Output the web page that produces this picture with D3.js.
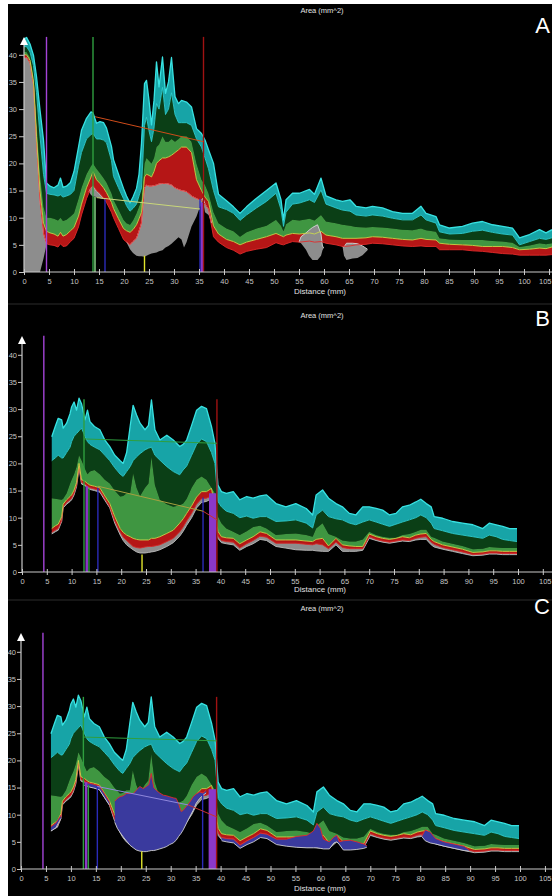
<!DOCTYPE html>
<html><head><meta charset="utf-8">
<script src="https://cdn.jsdelivr.net/npm/d3@7"></script>
<style>html,body{margin:0;padding:0;background:#fff}svg{display:block}</style>
</head><body><svg id="chart" width="552" height="896"></svg>
<script>
// ---------------- DATA ----------------
const A_d   = [0,0.5,1.2,1.9,2.5,3.2,3.9,4.5,5.2,6.0,6.8,7.3,7.8,8.5,9.3,10.0,10.9,11.5,12.5,13.4,13.8,14.5,15.2,15.9,16.5,17.5,17.9,18.9,19.9,20.5,21.2,21.8,22.5,23.0,23.5,24.1,24.5,25.0,25.5,26.0,26.5,27.0,27.7,28.3,28.9,29.5,30.2,30.9,31.5,32.5,33.5,34.5,35.5,36.2,36.9,37.9,38.9,40.5,41.9,43.2,44.5,46.5,48.5,50.4,51.4,51.9,52.4,53.7,55.1,57.1,58.1,59.4,60.4,62.4,63.7,65.2,66.4,68.4,69.7,71.7,73.7,75.7,77.7,79.4,80.4,82.4,83.1,85.1,87.7,89.7,91.7,93.7,95.7,97.7,99.1,101.1,103.1,104.4,105.6];
const A_top = [42.9,43.2,42.0,39.9,36.0,29.8,24.3,16.4,15.8,15.5,16.0,17.3,15.6,15.8,16.5,18.5,23.0,26.1,28.3,29.5,29.3,27.4,27.7,27.5,26.5,23.1,20.7,18.0,15.4,14.0,12.7,13.8,15.4,18.0,23.7,34.7,35.3,31.6,27.1,31.6,38.7,34.1,39.6,32.9,35.0,39.5,32.3,31.0,31.6,31.3,30.4,26.4,25.5,24.3,22.5,20.0,14.3,13.1,12.0,10.8,12.0,13.6,15.0,16.4,13.3,9.6,13.3,14.5,14.5,15.2,14.3,17.3,14.0,13.3,13.0,13.3,12.1,11.8,12.1,11.8,11.1,10.8,10.8,12.1,10.8,10.2,8.7,8.1,8.4,9.0,9.3,8.7,8.4,8.1,6.3,6.9,7.8,7.2,7.8];
const A_cb  = [41.5,41.5,40.5,38,33,25,18,14.5,14.3,14.2,14.0,14.2,13.8,14.0,14.3,15.0,19.5,22.0,24.5,25.3,25.5,24.5,24.5,24.3,23.8,20.5,17.6,15.5,13.5,12.2,11.2,11.7,12.5,14.0,15.5,27.0,28.5,26.0,24.0,26.5,31.0,30.0,34.0,29.0,30.0,33.0,29.0,27.5,27.5,27.5,27.0,24.5,23.0,21.0,19.0,15.0,12.0,11.5,10.8,9.5,10.5,11.8,13.0,14.5,11.5,8.4,11.0,12.5,12.7,13.3,12.8,15.1,12.5,11.8,11.4,11.2,10.5,10.3,10.5,10.3,9.9,9.6,9.6,10.5,9.6,9.0,7.4,7.0,7.1,7.5,7.7,7.3,7.0,6.8,5.0,5.6,6.2,6.0,6.3];
const A_dgb = [40.5,40.5,39.5,36,28,18,12,10.0,10.0,9.8,9.5,10.0,9.4,9.6,10.2,10.8,13.5,15.5,18.0,19.5,20.0,19.0,18.2,17.3,16.5,14.5,13.3,11.5,9.6,9.0,8.7,9.5,10.8,12.0,13.3,20.0,21.0,20.5,20.0,21.0,23.0,23.5,25.0,24.0,24.0,24.5,24.0,24.5,25.0,25.0,24.0,20.0,17.0,16.0,14.5,11.0,9.0,8.0,7.5,6.5,7.3,8.0,8.5,9.6,8.5,7.5,8.8,9.6,9.5,9.8,9.5,10.5,9.3,9.0,8.7,8.5,8.3,8.2,8.3,8.2,8.0,7.8,7.7,8.0,7.7,7.4,6.2,6.0,5.9,5.9,5.9,5.7,5.6,5.4,4.6,4.9,5.3,5.1,5.3];
const A_rt  = [40,40,39,35,25,15,9,7.5,7.2,7.0,6.6,7.3,6.6,6.9,7.6,8.2,10.3,12.5,15.5,17.5,18.5,17.0,16.3,15.5,14.6,12.8,11.7,9.8,8.0,7.6,7.3,7.8,8.7,9.8,11.0,17.5,18.0,17.8,17.5,18.5,20.0,20.5,21.0,21.0,21.2,21.5,22.0,22.5,23.0,23.0,22.0,17.0,15.0,13.8,13.0,8.5,7.0,6.0,5.6,5.0,5.5,6.0,6.5,7.1,6.7,6.5,6.8,7.1,7.0,7.2,7.0,7.5,6.8,6.5,6.2,6.2,6.2,6.3,6.5,6.4,6.2,6.0,5.9,6.2,6.0,5.9,5.3,5.1,5.0,4.9,4.7,4.7,4.7,4.5,4.1,4.2,4.4,4.3,4.6];
const A_rb  = [39.5,39.5,38.5,34.5,24,13,7,5.2,5.0,4.9,4.6,5.2,4.7,4.8,5.6,6.2,8.3,10.5,13.5,15.5,16.0,15.0,14.5,13.6,12.8,11.0,10.0,8.0,6.0,5.5,5.0,5.6,6.2,7.5,9.0,15.5,16.0,15.8,15.8,15.9,16.0,16.2,16.3,16.3,16.2,16.0,15.5,15.2,15.0,14.8,14.0,13.5,13.2,12.5,11.5,6.5,5.5,4.5,4.0,3.3,3.8,4.2,4.5,5.4,5.1,5.0,5.2,5.6,5.5,5.7,5.5,5.6,5.3,5.0,4.7,4.8,5.0,5.1,5.3,5.2,5.0,4.8,4.7,4.8,4.7,4.7,4.1,4.1,4.1,3.9,3.8,3.6,3.4,3.3,3.1,3.1,3.1,3.1,3.2];
const A_greyD   = [0,0.5,1.2,1.9,2.5,3.2,3.9,4.5,null,13.0,13.4,13.8,14.5,15.2,15.9,null,20.5,21.2,21.8,22.5,23.0,23.5,24.1,24.5,25.0,25.5,26.0,26.5,27.0,27.7,28.3,28.9,29.5,30.2,30.9,31.5,32.0,32.5,33.5,34.5,35.0,35.5,35.8,36.2,36.9,37.5,null,55.0,55.4,56.4,57.0,57.7,58.7,59.4,59.7,60.0,null,63.7,64.0,64.5,65.7,66.7,67.7,68.7];
const A_greyTop = [39.5,39.5,38.5,34.5,24,13,7,5.2,null,14.8,15.5,15.8,14.9,14.3,13.5,null,5.5,5.0,5.6,6.2,7.5,9.0,15.5,16.0,15.8,15.8,15.9,16.0,16.2,16.3,16.3,16.2,16.0,15.5,15.2,15.0,14.9,14.8,14.0,13.5,13.3,13.2,13.6,12.5,11.5,9.0,null,5.5,6.5,7.2,7.7,8.2,8.7,7.0,4.7,4.5,null,4.7,4.6,5.3,5.3,5.2,4.8,4.2];
const A_greyBot = [0,0,0,0,0,0,2.5,5.0,null,14.8,14.2,13.9,13.8,13.6,13.4,null,5.5,4.2,3.5,3.0,2.9,2.9,2.8,3.0,3.2,3.4,3.5,3.6,3.8,4.0,4.5,4.8,5.2,5.8,6.4,6.0,4.5,5.5,8.4,10.2,11.5,12.5,13.0,11.0,10.5,9.0,null,5.5,5.3,4.1,3.0,2.2,2.2,3.0,4.0,4.5,null,4.7,3.0,2.2,2.5,2.6,3.1,4.0];

const BC_d   = [6.0,6.7,7.3,8.0,8.3,9.0,9.7,10.0,10.5,11.0,11.5,12.0,12.7,13.2,13.7,14.6,15.7,16.7,17.7,18.7,19.8,20.4,21.1,21.8,22.4,23.1,23.8,24.8,25.5,26.1,26.8,27.8,29.2,30.5,31.8,32.5,33.2,34.2,35.2,36.2,37.2,38.2,38.9,39.5,40.2,41.2,42.6,43.9,45.3,46.6,48.0,49.3,51.2,53.2,55.2,57.3,58.6,59.3,60.6,61.8,63.3,64.6,66.0,67.3,68.7,70.0,71.4,72.7,74.1,75.4,76.7,78.1,79.4,80.4,81.5,82.5,83.1,84.8,86.8,88.8,90.9,92.9,94.2,95.6,96.9,98.3,99.8];
const BC_top = [24.9,26.8,28.3,28.0,26.5,27.4,29.2,30.4,31.3,29.8,32.0,31.0,28.0,29.8,27.7,26.8,26.2,24.3,23.1,21.5,20.5,20.0,22.0,26.8,30.7,28.9,27.4,26.2,27.0,31.7,26.2,24.3,25.2,24.3,23.1,23.5,24.3,27.0,29.8,30.5,30.1,26.8,23.7,16.0,14.8,14.5,14.8,13.3,13.9,13.6,14.0,14.2,12.6,12.0,12.6,11.7,10.5,14.2,15.1,13.6,12.6,12.0,10.8,10.5,12.0,12.0,11.7,11.4,10.5,10.8,12.0,12.3,12.9,13.4,12.6,12.0,10.2,9.9,9.3,9.0,8.7,8.0,9.0,8.7,8.4,8.0,8.0];
const BC_cb  = [20.5,21,21.5,21,21,22,23,24,25,25.5,26,26.5,25,24,23.5,23,22.5,21.5,20.5,19.2,18.0,17.6,18.5,19.4,20.5,21.2,21.8,22.5,22.8,23.0,21.5,20.6,19.4,18.5,17.9,18.8,19.5,21.5,23.5,24.5,24.0,22.0,20.0,13.0,12.0,11.2,10.8,10.0,10.3,9.9,10.2,10.2,9.3,9.4,9.6,9.0,8.1,10.5,11.4,10.2,9.8,9.6,9.0,8.7,9.2,9.6,9.2,8.8,8.4,8.8,9.2,9.6,10.0,10.5,10.0,9.0,8.0,7.6,7.1,6.8,6.5,6.2,6.8,6.5,6.0,5.8,5.6];
const BC_dgb = [13.6,13.5,13.4,13.3,13.5,14.5,16.3,17.0,18.0,19.4,21.5,20.6,19.0,18.0,18.5,18.8,18.0,17.0,16.3,15.0,13.9,14.0,14.5,14.5,18.2,15.5,14.0,15.5,16.3,21.2,16.0,13.3,12.5,12.0,12.3,12.6,13.5,15.5,17.0,17.6,17.0,15.5,14.5,10.2,9.0,8.0,7.4,6.8,7.5,8.3,8.5,8.0,6.8,7.0,7.1,6.8,6.5,8.0,9.0,7.0,6.5,5.8,5.6,5.6,6.0,7.4,6.8,6.5,6.3,6.3,6.8,7.0,7.4,7.8,7.8,6.5,6.3,5.6,5.2,4.8,4.2,4.3,4.6,4.5,4.4,4.4,4.4];
const BC_rt  = [8.0,8.5,8.8,10.2,12.5,13.3,13.9,14.2,15.1,16.5,20.0,17.0,16.7,16.3,16.0,15.8,15.5,14.0,12.6,10.2,8.0,7.3,6.8,6.5,6.2,6.0,5.9,5.9,5.9,6.2,6.2,6.5,7.1,7.7,9.0,9.8,10.8,12.2,13.8,14.8,14.8,15.4,12.0,7.5,6.5,6.3,6.2,5.2,5.9,6.5,7.4,7.1,5.9,5.9,5.9,5.7,5.6,6.0,6.2,4.8,6.2,5.0,4.8,4.7,4.7,7.0,6.5,6.2,6.0,6.2,6.5,6.3,6.8,7.0,7.1,6.0,5.6,5.0,4.6,4.2,3.6,3.7,3.9,3.9,3.8,3.8,3.8];
const BC_rb  = [7.3,7.7,8.0,9.5,12.0,12.8,13.3,13.6,14.5,16.0,19.5,16.5,16.2,15.8,15.5,15.3,15.0,13.5,12.0,9.4,7.3,6.4,5.8,5.2,4.7,4.5,4.4,4.6,4.7,4.7,4.8,5.0,5.6,6.2,7.4,8.3,9.4,10.8,12.5,13.5,13.6,14.0,10.5,6.6,5.8,5.6,5.5,4.4,5.2,5.8,6.6,6.4,5.3,5.3,5.3,5.1,5.0,5.2,5.0,4.3,5.5,4.5,4.3,4.3,4.3,6.5,6.0,5.7,5.5,5.7,5.9,5.8,6.2,6.4,6.5,5.5,5.1,4.5,4.1,3.7,3.2,3.3,3.5,3.5,3.4,3.4,3.4];
const BC_gb  = [7.0,7.4,7.7,9.3,11.8,12.5,13.0,13.3,14.2,15.7,19.2,16.2,15.9,15.5,15.2,15.0,14.7,13.2,11.8,9.0,6.8,5.8,5.0,4.5,4.1,3.7,3.5,3.5,3.6,3.7,3.8,4.1,4.7,5.4,6.6,7.5,8.6,10.0,11.8,12.8,13.0,13.5,10.0,6.2,5.4,5.2,5.0,4.0,4.7,5.2,6.0,5.8,4.7,4.4,4.1,4.0,4.0,3.9,3.8,3.8,5.0,3.8,3.8,3.8,4.0,6.2,5.8,5.5,5.3,5.5,5.7,5.6,5.9,6.0,6.0,5.0,4.6,4.2,3.8,3.4,3.0,3.1,3.3,3.3,3.2,3.2,3.2];

const C_blueD   = [6.0,7.0,8.0,null,12.7,13.7,14.6,15.7,16.7,17.7,null,18.8,19.3,19.8,20.5,21.1,21.8,22.5,23.1,23.8,24.5,25.1,25.6,26.1,26.6,27.1,27.8,28.5,29.1,29.8,30.5,31.1,31.6,32.1,32.5,33.1,33.8,34.5,35.1,35.8,36.5,37.1,null,40.2,41.2,42.6,43.9,45.3,46.6,48.0,49.3,51.2,53.2,55.2,57.3,58.6,59.3,60.0,60.6,61.8,62.7,63.3,63.8,64.6,66.0,67.3,68.7,69.3,null,80.3,81.0,82.0,83.1,84.8,86.8,88.8,89.7];
const C_blueTop = [7.8,8.5,9.9,null,16.0,15.8,15.6,15.3,13.9,12.4,null,12.5,13.0,13.3,13.5,13.9,13.9,13.9,14.5,15.2,14.8,15.2,15.5,17.6,15.0,14.5,14.0,13.6,13.5,13.3,13.1,13.0,12.0,10.6,10.8,11.5,12.3,13.3,13.8,14.2,14.0,14.5,null,5.8,5.6,5.5,4.4,5.2,5.8,6.6,6.4,5.5,5.5,6.0,6.2,7.0,8.4,7.5,5.5,5.0,5.9,6.2,5.0,5.2,5.3,5.0,4.6,4.3,null,6.0,7.2,6.8,5.6,5.0,4.6,4.2,3.6];
const C_blueBot = [7.0,7.6,9.3,null,15.4,15.1,14.9,14.6,13.2,11.8,null,8.6,7.5,6.8,5.9,5.2,4.4,3.9,3.5,3.3,3.2,3.2,3.3,3.4,3.4,3.5,3.7,3.9,4.1,4.5,4.8,5.3,6.0,6.6,7.2,8.3,9.6,10.8,12.1,13.0,13.6,14.0,null,5.2,5.0,4.8,3.8,4.5,5.0,5.8,5.6,4.5,4.2,4.0,3.9,3.9,3.9,3.8,3.7,3.7,4.8,5.0,4.5,3.5,3.5,3.6,3.8,4.0,null,6.0,5.2,4.8,4.6,4.2,3.8,3.4,3.3];

const A_vlines = [[4.5,43.3,'violet'],[13.8,43.3,'green'],[35.9,43.3,'darkred'],[14.2,13.8,'lightgreen'],[16.2,13.4,'blue'],[24.1,3.0,'yellow'],[35.2,13.5,'blue']];
const B_vlines = [[4.4,43.5,'violet'],[12.5,31.8,'green'],[39.3,31.8,'darkred'],[13.5,15.5,'green'],[15.3,15.5,'blue'],[24.2,3.2,'yellow'],[36.5,13.7,'blue']];
const C_vlines = [[4.4,43.5,'violet'],[12.5,31.7,'green'],[39.2,31.7,'darkred'],[13.5,15.5,'green'],[15.3,15.2,'blue'],[24.2,3.2,'yellow'],[36.4,13.7,'blue']];
const A_bars = [[35.3,35.95,12.8]];
const B_bars = [[12.8,13.3,15.8],[37.7,39.2,14.5]];
const C_bars = [[12.8,13.3,16.0],[37.6,39.1,14.7]];
const A_slopes = [[14.2,28.6,35.9,24.0,'orange'],[14.5,13.7,35.2,11.6,'paleyellow']];
const B_slopes = [[12.5,24.5,39.3,23.7,'green'],[15.3,15.8,36.5,11.2,'olive'],[36.5,11.2,39.3,9.6,'red']];
const C_slopes = [[12.5,24.3,39.2,23.6,'green'],[15.3,15.2,33.5,11.8,'lavender'],[33.5,11.8,39.2,9.6,'red']];

const yTicks = [0,5,10,15,20,25,30,35,40];
const xTicks = [0,5,10,15,20,25,30,35,40,45,50,55,60,65,70,75,80,85,90,95,100,105];

// ---------------- STYLE / LAYOUT ----------------
const MARK = {violet:'#a444d8', green:'#2f9f3f', darkred:'#a01212', lightgreen:'#8fe08f', blue:'#2b2bb8',
  yellow:'#e0e42c', orange:'#cf4c1a', paleyellow:'#c9d77a', olive:'#a8a040', lavender:'#9088dc', red:'#c83232', bar:'#8b38c8'};
const COL = {cyan:'#17a4a7', cyanEdge:'#38e2e2', dark:'#0b3f16', light:'#3f9641', red:'#b51616', redEdge:'#e22a2a',
  yl:'#c8d84c', grey:'#8d8d8d', greyEdge:'#d8d8d8', blue:'#3a3a9e'};
const FONT = "'Liberation Sans', Arial, sans-serif";

const PANELS = [
  {key:'A', x0:24, kx:5.0,  y0:272, ky:5.43, arrowTip:37,  titleY:13,  xlabY:294, letterY:33, tick:5, pad:2,
   S:{d:A_d, top:A_top, cb:A_cb, dgb:A_dgb, rt:A_rt, rb:A_rb}, grey:{d:A_greyD, top:A_greyTop, bot:A_greyBot},
   vlines:A_vlines, bars:A_bars, slopes:A_slopes},
  {key:'B', x0:22, kx:4.96, y0:572, ky:5.43, arrowTip:336, titleY:318, xlabY:592, letterY:326, tick:4, pad:1,
   S:{d:BC_d, top:BC_top, cb:BC_cb, dgb:BC_dgb, rt:BC_rt, rb:BC_rb}, grey:{d:BC_d, top:BC_rb, bot:BC_gb},
   vlines:B_vlines, bars:B_bars, slopes:B_slopes},
  {key:'C', x0:21, kx:4.99, y0:869, ky:5.43, arrowTip:633, titleY:611, xlabY:891, letterY:614, tick:4, pad:1,
   S:{d:BC_d, top:BC_top, cb:BC_cb, dgb:BC_dgb, rt:BC_rt, rb:BC_rb}, grey:{d:BC_d, top:BC_rb, bot:BC_gb},
   blue:{d:C_blueD, top:C_blueTop, bot:C_blueBot},
   vlines:C_vlines, bars:C_bars, slopes:C_slopes}
];

const svg = d3.select('#chart');
svg.append('rect').attr('width',552).attr('height',896).attr('fill','#fff');
svg.append('rect').attr('x',8).attr('y',4).attr('width',544).attr('height',892).attr('fill','#000');
[304,600].forEach(yy => svg.append('line').attr('x1',8).attr('x2',552).attr('y1',yy).attr('y2',yy)
  .attr('stroke','#2c2c2c').attr('stroke-width',1));

PANELS.forEach(p => {
  const x = d3.scaleLinear().domain([0,105]).range([p.x0, p.x0 + 105*p.kx]);
  const y = d3.scaleLinear().domain([0,40]).range([p.y0, p.y0 - 40*p.ky]);
  const g = svg.append('g');
  const S = p.S;
  const idx = d3.range(S.d.length);

  const band = (lo, hi, fill) => g.append('path').datum(idx)
    .attr('d', d3.area().x(i => x(S.d[i])).y0(i => y(lo[i])).y1(i => y(hi[i])))
    .attr('fill', fill);
  const edge = (arr, color, w) => g.append('path').datum(idx)
    .attr('d', d3.line().x(i => x(S.d[i])).y(i => y(arr[i])))
    .attr('fill','none').attr('stroke', color).attr('stroke-width', w).attr('stroke-linejoin','round');

  band(S.cb, S.top, COL.cyan);
  band(S.dgb, S.cb, COL.dark);
  band(S.rt, S.dgb, COL.light);
  band(S.rb, S.rt, COL.red);
  edge(S.top, COL.cyanEdge, 1.3);
  edge(S.cb, '#2fcfcf', 0.9);

  const piece = (P, fill, topCol, botCol) => {
    const ii = d3.range(P.d.length);
    const def = i => P.d[i] != null && P.top[i] != null;
    g.append('path').datum(ii)
      .attr('d', d3.area().defined(def).x(i => x(P.d[i])).y0(i => y(P.bot[i])).y1(i => y(P.top[i])))
      .attr('fill', fill);
    if (botCol) g.append('path').datum(ii)
      .attr('d', d3.line().defined(def).x(i => x(P.d[i])).y(i => y(P.bot[i])))
      .attr('fill','none').attr('stroke', botCol).attr('stroke-width',0.9);
    if (topCol) g.append('path').datum(ii)
      .attr('d', d3.line().defined(def).x(i => x(P.d[i])).y(i => y(P.top[i])))
      .attr('fill','none').attr('stroke', topCol).attr('stroke-width',0.9);
  };
  piece(p.grey, COL.grey, p.key === 'A' ? COL.greyEdge : null, p.key === 'A' ? null : '#bdbdbd');
  edge(S.rb, COL.redEdge, 0.9);
  edge(S.rt, COL.yl, 0.9);
  if (p.blue) piece(p.blue, COL.blue, COL.redEdge, '#cfcfcf');

  p.bars.forEach(b => g.append('rect')
    .attr('x', x(b[0])).attr('width', x(b[1]) - x(b[0]))
    .attr('y', y(b[2])).attr('height', y(0) - y(b[2]))
    .attr('fill', MARK.bar));
  p.vlines.forEach(v => g.append('line')
    .attr('x1', x(v[0])).attr('x2', x(v[0])).attr('y1', y(0)).attr('y2', y(v[1]))
    .attr('stroke', MARK[v[2]]).attr('stroke-width', 1.4));
  p.slopes.forEach(s => g.append('line')
    .attr('x1', x(s[0])).attr('y1', y(s[1])).attr('x2', x(s[2])).attr('y2', y(s[3]))
    .attr('stroke', MARK[s[4]]).attr('stroke-width', 1));

  const axCol = '#c9c9c9';
  const yAx = g.append('g').attr('transform', `translate(${p.x0},0)`)
    .call(d3.axisLeft(y).tickValues(yTicks).tickSize(p.tick).tickPadding(p.pad));
  yAx.select('.domain').remove();
  yAx.selectAll('line').attr('stroke', axCol);
  yAx.selectAll('text').attr('fill', '#c4c4c4').style('font-size','7.5px').style('font-family', FONT);

  const xAx = g.append('g').attr('transform', `translate(0,${p.y0})`)
    .call(d3.axisBottom(x).tickValues(xTicks).tickSize(3).tickPadding(4));
  xAx.select('.domain').remove();
  xAx.selectAll('line').attr('stroke', axCol).attr('y1', -3);
  xAx.selectAll('text').attr('fill', '#c4c4c4').style('font-size','7.5px').style('font-family', FONT);
  // keep the last label inside the page edge
  xAx.selectAll('.tick').filter(t => x(t) > 540).select('text')
    .attr('text-anchor','end').attr('x', t => 551 - x(t));

  g.append('line').attr('x1', p.x0).attr('x2', 552).attr('y1', p.y0).attr('y2', p.y0)
    .attr('stroke', axCol).attr('stroke-width', 1.2);
  g.append('line').attr('x1', p.x0).attr('x2', p.x0).attr('y1', p.y0).attr('y2', p.arrowTip + 6)
    .attr('stroke', axCol).attr('stroke-width', 1.2);
  g.append('path')
    .attr('d', `M${p.x0},${p.arrowTip} L${p.x0-4},${p.arrowTip+8} L${p.x0+4},${p.arrowTip+8} Z`)
    .attr('fill', '#fff');

  g.append('text').attr('x', 322).attr('y', p.titleY).attr('text-anchor','middle')
    .attr('fill','#e0e0e0').style('font-size','7.5px').style('font-family', FONT).text('Area (mm^2)');
  g.append('text').attr('x', 320).attr('y', p.xlabY).attr('text-anchor','middle')
    .attr('fill','#e0e0e0').style('font-size','8px').style('font-family', FONT).text('Distance (mm)');
  g.append('text').attr('x', 550).attr('y', p.letterY).attr('text-anchor','end')
    .attr('fill','#fff').style('font-size','22px').style('font-family', FONT).text(p.key);
});
</script></body></html>
